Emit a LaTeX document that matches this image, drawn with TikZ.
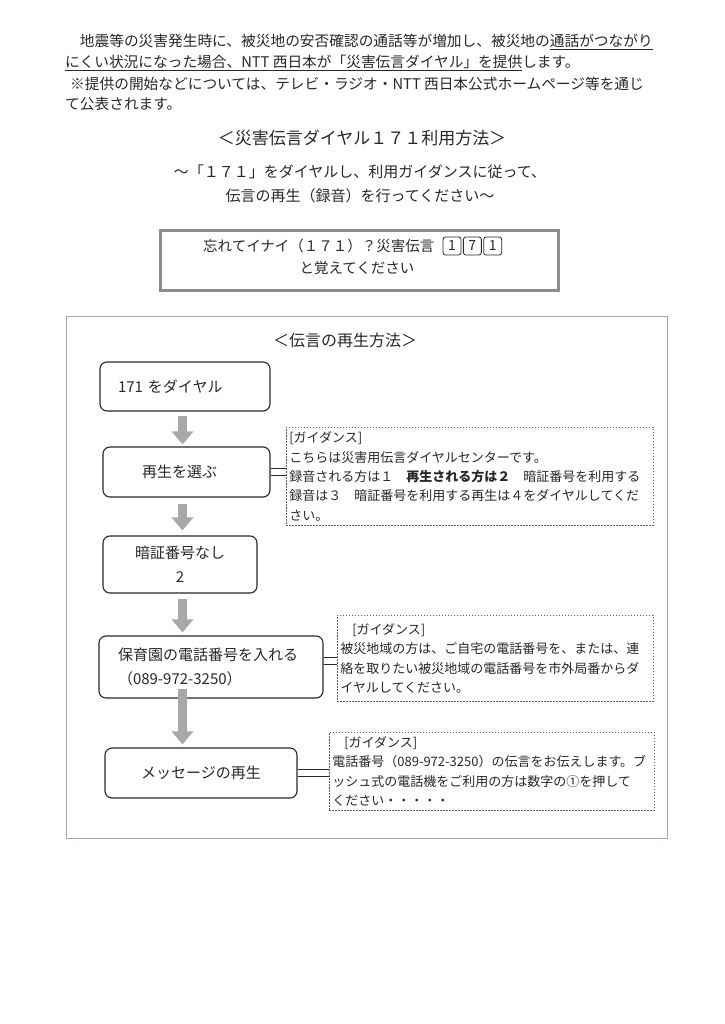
\documentclass[tikz,border=0pt]{standalone}
\usepackage{fontspec}
\setmainfont{Noto Sans CJK JP}
\usepackage{xcolor}
\usetikzlibrary{arrows.meta, positioning}
\definecolor{ink}{RGB}{40,40,40}
\definecolor{framecol}{RGB}{150,172,190}
\definecolor{arrowgray}{RGB}{168,168,168}
\definecolor{memogray}{RGB}{140,140,140}
\tikzstyle{para} = [anchor=west, inner sep=0pt, text=ink, font=\fontsize{14.7}{18}\selectfont]
\tikzstyle{heading} = [inner sep=0pt, text=ink, align=center]
\tikzstyle{memo} = [rectangle, draw=memogray, line width=3pt, minimum width=398pt, minimum height=59pt]
\tikzstyle{keycap} = [rectangle, rounded corners=2.5pt, draw=ink, line width=0.8pt, minimum width=18pt, minimum height=18pt, inner sep=0pt, text=ink, font=\fontsize{14}{14}\selectfont]
\tikzstyle{container} = [rectangle, draw=framecol, line width=1.2pt, anchor=north west]
\tikzstyle{stepbox} = [rectangle, rounded corners=7pt, draw=ink, line width=1.1pt, text=ink, font=\fontsize{15}{24}\selectfont]
\tikzstyle{guide} = [rectangle, draw=ink!75, dash pattern=on 1.6pt off 1.4pt, line width=0.7pt, anchor=north west, inner xsep=3pt, align=left, text=ink, font=\fontsize{13}{19.3}\selectfont]
\tikzstyle{flow} = [line width=9pt, draw=arrowgray, -{Triangle[width=21pt,length=13pt]}]
\tikzstyle{link} = [draw=ink, line width=1pt, double, double distance=6.5pt]

\begin{document}
\begin{tikzpicture}[x=1pt, y=-1pt]
    \useasboundingbox[fill=white] (0,0) rectangle (724,1024);

    % Introduction
    \node[para] (intro1) at (65,42) {　地震等の災害発生時に、被災地の安否確認の通話等が増加し、被災地の\underline{通話がつながり}};
    \node[para] (intro2) at (65,63) {\underline{にくい状況になった場合、NTT 西日本が「災害伝言ダイヤル」を提供}します。};
    \node[para] (intro3) at (70,84) {※提供の開始などについては、テレビ・ラジオ・NTT 西日本公式ホームページ等を通じ};
    \node[para] (intro4) at (65,104) {て公表されます。};

    % Title and subtitle
    \node[heading, font=\fontsize{17}{20}\selectfont] (title) at (362,138) {＜災害伝言ダイヤル１７１利用方法＞};
    \node[heading, font=\fontsize{15}{24}\selectfont] (subtitle) at (360,184) {～「１７１」をダイヤルし、利用ガイダンスに従って、\\伝言の再生（録音）を行ってください～};

    % Memo box
    \node[memo] (memo) at (359,260.5) {};
    \node[para, font=\fontsize{14.5}{18}\selectfont] (memo1) at (203,246) {忘れてイナイ（１７１）？災害伝言};
    \node[keycap, right=8pt of memo1] (key1) {1};
    \node[keycap, right=1.5pt of key1] (key2) {7};
    \node[keycap, right=1.5pt of key2] (key3) {1};
    \node[heading, font=\fontsize{14.5}{18}\selectfont] (memo2) at (357,268) {と覚えてください};

    % Playback frame
    \node[container, minimum width=601pt, minimum height=522pt] (frame) at (66,316) {};
    \node[heading, font=\fontsize{16}{20}\selectfont] (frametitle) at (345,340) {＜伝言の再生方法＞};

    % Steps
    \node[stepbox, minimum height=49pt, inner xsep=18pt, text width=134pt, align=left] (dial) at (185,386.5) {171 をダイヤル};
    \node[stepbox, minimum height=50pt, inner xsep=39pt, text width=89pt, align=left] (select) at (186.5,472) {再生を選ぶ};
    \node[stepbox, minimum width=154pt, minimum height=57pt, align=center] (nopin) at (180,564.5) {暗証番号なし\\2};
    \node[stepbox, minimum height=62pt, inner xsep=19pt, text width=186pt, align=left] (number) at (211,667) {保育園の電話番号を入れる\\（089-972-3250）};
    \node[stepbox, minimum width=192pt, minimum height=50pt, align=center] (play) at (201,773) {メッセージの再生};

    % Guidance
    \node[guide, minimum width=367pt, minimum height=98pt, text width=361pt] (guide1) at (286,427) {[ガイダンス]\\こちらは災害用伝言ダイヤルセンターです。\\録音される方は１　\textbf{再生される方は２}　暗証番号を利用する\\録音は３　暗証番号を利用する再生は４をダイヤルしてくだ\\さい。};
    \node[guide, minimum width=316pt, minimum height=86pt, text width=310pt] (guide2) at (337,615) {\hspace{12pt}[ガイダンス]\\被災地域の方は、ご自宅の電話番号を、または、連\\絡を取りたい被災地域の電話番号を市外局番からダ\\イヤルしてください。};
    \node[guide, minimum width=325pt, minimum height=78pt, text width=319pt] (guide3) at (329,732) {\hspace{12pt}[ガイダンス]\\電話番号（089-972-3250）の伝言をお伝えします。ブ\\ッシュ式の電話機をご利用の方は数字の①を押して\\ください・・・・・};

    % Double links
    \draw[link] (select.east) -- (select.east -| guide1.west);
    \draw[link] ([yshift=6pt]number.east) -- ([yshift=6pt]number.east -| guide2.west);
    \draw[link] (play.east) -- (play.east -| guide3.west);

    % Flow arrows
    \coordinate (col) at (182.5,0);
    \draw[flow, shorten <=4pt, shorten >=2pt] (dial.south -| col) -- (select.north -| col);
    \draw[flow, shorten <=6pt, shorten >=5pt] (select.south -| col) -- (nopin.north -| col);
    \draw[flow, shorten <=5pt, shorten >=3pt] (nopin.south -| col) -- (number.north -| col);
    \draw[flow, shorten <=-10pt, shorten >=3pt] (number.south -| col) -- (play.north -| col);
\end{tikzpicture}
\end{document}
